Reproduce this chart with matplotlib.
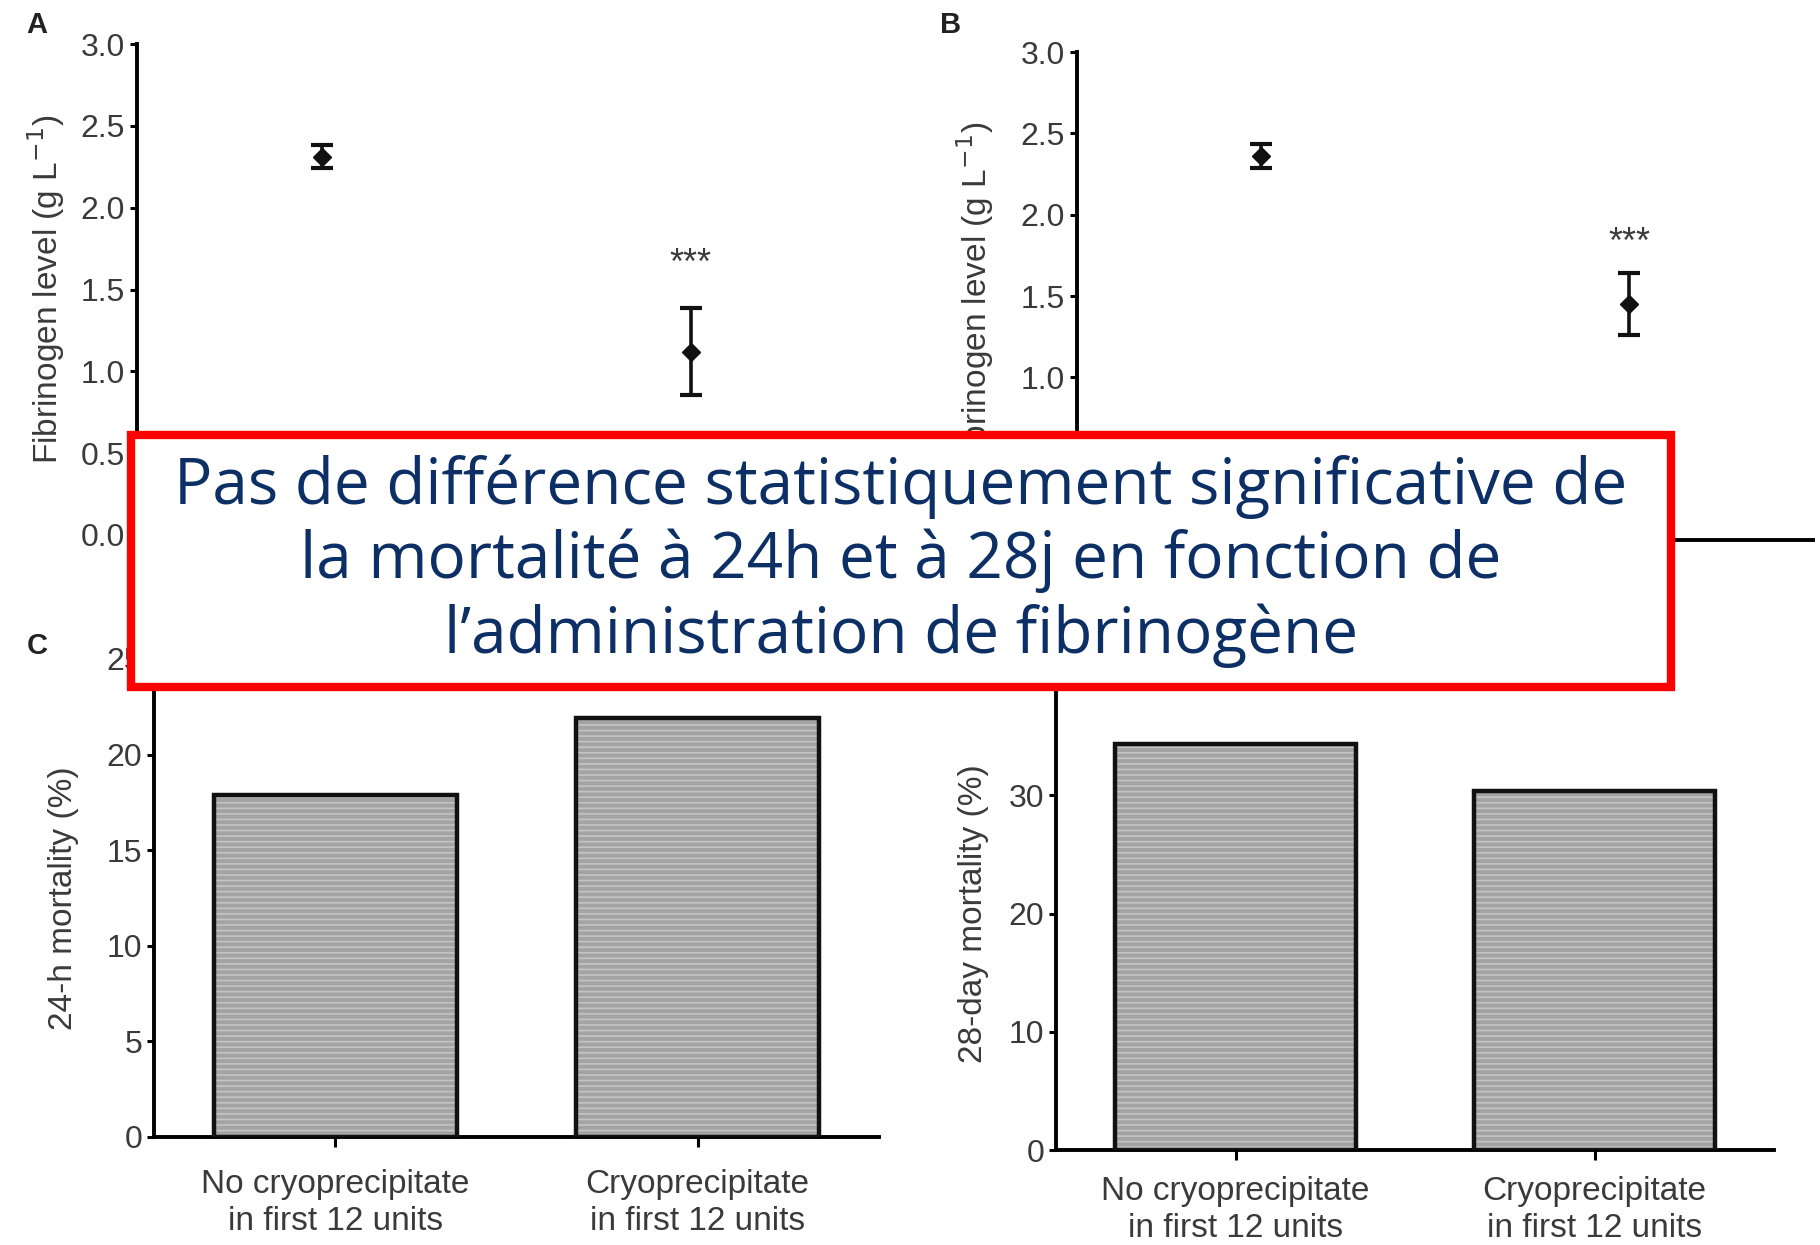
import matplotlib.pyplot as plt
from matplotlib.patches import Rectangle

# categories shared by all panels
groups = ['No cryoprecipitate\nin first 12 units', 'Cryoprecipitate\nin first 12 units']
xpos = [1, 2]

# panel A / B: fibrinogen level (g/L), mean and error
fib_a_mean = [2.31, 1.12]
fib_a_err = [0.07, 0.265]
fib_b_mean = [2.36, 1.45]
fib_b_err = [0.075, 0.19]
stars_a = 1.65
stars_b = 1.82

# panel C / D: mortality (%)
mort_24h = [17.9, 21.9]
mort_28d = [34.3, 30.4]

W, H = 1820, 1245
TXT = '#3a3a3a'

plt.rcParams['font.family'] = ['Liberation Sans Narrow', 'Liberation Sans', 'DejaVu Sans']
plt.rcParams['hatch.linewidth'] = 1.2
fig = plt.figure(figsize=(W / 100, H / 100), dpi=100)


def add_ax(left, right, top, bottom):
    # pixel box -> figure fraction
    return fig.add_axes([left / W, 1 - bottom / H, (right - left) / W, (bottom - top) / H])


def style(ax):
    for s in ['top', 'right']:
        ax.spines[s].set_visible(False)
    for s in ['left', 'bottom']:
        ax.spines[s].set_linewidth(2.8)
    ax.tick_params(axis='both', colors='black', labelcolor=TXT, labelsize=23,
                   width=2.2, length=5, direction='out')
    ax.set_xlim(0.5, 2.5)


def fib_panel(ax, mean, err, stars, label_pad):
    style(ax)
    ax.errorbar(xpos, mean, yerr=err, fmt='D', color='#111111', markersize=9,
                elinewidth=2.6, capsize=8, capthick=3)
    ax.text(2, stars, '***', ha='center', va='center', fontsize=26, color=TXT)
    ax.set_ylim(0, 3.0)
    ax.set_yticks([0, 0.5, 1.0, 1.5, 2.0, 2.5, 3.0])
    ax.set_yticklabels(['0.0', '0.5', '1.0', '1.5', '2.0', '2.5', '3.0'])
    ax.set_xticks([])
    ax.set_ylabel('Fibrinogen level (g L$^{-1}$)', fontsize=24, color=TXT, labelpad=label_pad)


def mort_panel(ax, vals, ylim, yticks, ylabel, label_pad, xpad):
    style(ax)
    ax.bar(xpos, vals, width=0.67, color='#a3a3a3', edgecolor='#c4c4c4',
           hatch='---', linewidth=0, zorder=2)
    ax.bar(xpos, vals, width=0.67, fill=False, edgecolor='#111111',
           linewidth=3.2, zorder=3)
    ax.set_ylim(0, ylim)
    ax.set_yticks(yticks)
    ax.set_xticks(xpos)
    ax.set_xticklabels(groups, fontsize=24, color=TXT, linespacing=1.25)
    ax.tick_params(axis='x', length=7, pad=xpad)
    ax.set_ylabel(ylabel, fontsize=24, color=TXT, labelpad=label_pad)


ax_a = add_ax(137, 875, 44, 535)
fib_panel(ax_a, fib_a_mean, fib_a_err, stars_a, 10)

ax_b = add_ax(1077, 1813, 52, 540)
fib_panel(ax_b, fib_b_mean, fib_b_err, stars_b, 18)

ax_c = add_ax(154, 879, 659, 1137)
mort_panel(ax_c, mort_24h, 25, [0, 5, 10, 15, 20, 25], '24-h mortality (%)', 20, 16)

ax_d = add_ax(1056, 1774, 677, 1150)
mort_panel(ax_d, mort_28d, 40, [0, 10, 20, 30, 40], '28-day mortality (%)', 14, 12)

# panel letters
for lab, x, y in [('A', 37, 25), ('B', 951, 25), ('C', 37, 646), ('D', 951, 646)]:
    fig.text(x / W, 1 - y / H, lab, fontsize=21, fontweight='bold', color='#222222',
             ha='center', va='center', family=['Liberation Sans', 'DejaVu Sans'])

# red annotation box on top of everything
box = Rectangle((131 / W, 1 - 687 / H), (1671 - 131) / W, (687 - 435) / H,
                transform=fig.transFigure, facecolor='white', edgecolor='#ff0000',
                linewidth=6, zorder=20)
fig.patches.append(box)
fig.text(901 / W, 1 - 561 / H,
         "Pas de différence statistiquement significative de\n"
         "la mortalité à 24h et à 28j en fonction de\n"
         "l’administration de fibrinogène",
         ha='center', va='center', fontsize=46, color='#0c2f66', linespacing=1.2,
         family=['Open Sans', 'DejaVu Sans'], zorder=21)

fig.savefig('out.png', dpi=100)
